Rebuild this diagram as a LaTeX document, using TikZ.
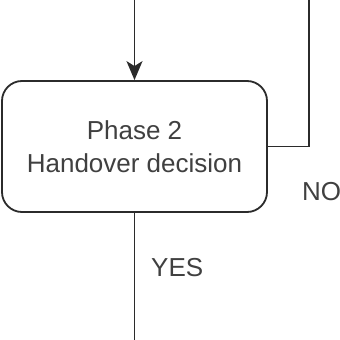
\documentclass[tikz,border=0pt]{standalone}
\usepackage{fontspec}
\setmainfont{Liberation Sans}
\usetikzlibrary{arrows.meta, positioning}
\definecolor{lineclr}{HTML}{2B2B2B}
\definecolor{textclr}{HTML}{404040}

\begin{document}
\begin{tikzpicture}[
    x=1pt, y=-1pt,
    every node/.style={font=\fontsize{26}{33}\selectfont, text=textclr},
    phase/.style={rectangle, rounded corners=20pt, draw=lineclr, line width=1.8pt,
                  fill=white, minimum width=265pt, minimum height=131pt,
                  align=center, inner sep=0pt},
    flow/.style={draw=lineclr, line width=1.8pt},
]
\useasboundingbox (0, 0) rectangle (340, 340);
\clip (0, 0) rectangle (340, 340);

\node[phase] (decide) at (134.5, 146.5) {Phase 2\\Handover decision};

\coordinate (topin) at (134.5, 0);
\coordinate (noturn) at (309, 146.5);
\coordinate (noend) at (309, 0);
\coordinate (yesend) at (134.5, 340);

\draw[flow, -{Stealth[length=19pt, width=16pt, inset=5pt]}] (topin) -- (decide.north);
\draw[flow] (decide.east) -- (noturn) -- (noend);
\draw[flow] (decide.south) -- (yesend);

\node[anchor=west, inner sep=0pt] (nolbl) at (302, 192) {NO};
\node[anchor=west, inner sep=0pt] (yeslbl) at (151, 268) {YES};

\end{tikzpicture}
\end{document}
